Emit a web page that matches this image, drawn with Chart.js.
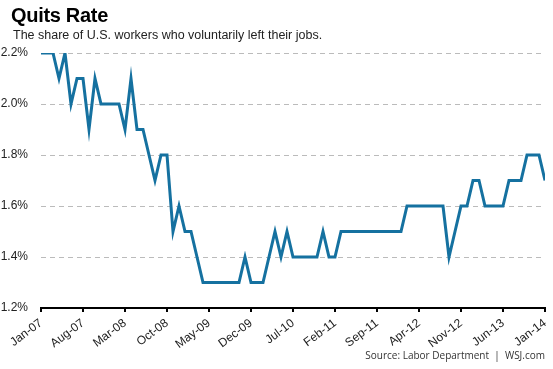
<!DOCTYPE html>
<html lang="en">
<head>
  <meta charset="UTF-8">
  <title>Quits Rate</title>
  <script src="https://cdn.jsdelivr.net/npm/chart.js"></script>
  <style>
    body { margin: 0; background: #fff; }
    .wrap { position: relative; width: 553px; height: 369px; font-family: "Liberation Sans", Arial, sans-serif; }
    #chart { position: absolute; left: 0; top: 0; }
    .title { position: absolute; left: 11px; top: 4px; font-size: 20px; font-weight: bold; color: #000; letter-spacing: -0.3px; }
    .sub { position: absolute; left: 13px; top: 28px; font-size: 12.5px; color: #222; }
    .src { position: absolute; right: 8px; top: 348px; font-size: 10px; color: #333; font-family: "Open Sans", sans-serif; }
  </style>
</head>
<body>
  <div class="wrap">
    <canvas id="chart" width="553" height="369"></canvas>
    <div class="title">Quits Rate</div>
    <div class="sub">The share of U.S. workers who voluntarily left their jobs.</div>
    <div class="src">Source: Labor Department &nbsp;|&nbsp; WSJ.com</div>
  </div>

  <script>
    // monthly, Jan-07 .. Jan-14
    const tickLabels = ['Jan-07', 'Aug-07', 'Mar-08', 'Oct-08', 'May-09', 'Dec-09', 'Jul-10',
                        'Feb-11', 'Sep-11', 'Apr-12', 'Nov-12', 'Jun-13', 'Jan-14'];
    const quitsRate = [
      2.2, 2.2, 2.2, 2.1, 2.2, 2.0, 2.1, 2.1, 1.9, 2.1, 2.0, 2.0,   // 2007
      2.0, 2.0, 1.9, 2.1, 1.9, 1.9, 1.8, 1.7, 1.8, 1.8, 1.5, 1.6,   // 2008
      1.5, 1.5, 1.4, 1.3, 1.3, 1.3, 1.3, 1.3, 1.3, 1.3, 1.4, 1.3,   // 2009
      1.3, 1.3, 1.4, 1.5, 1.4, 1.5, 1.4, 1.4, 1.4, 1.4, 1.4, 1.5,   // 2010
      1.4, 1.4, 1.5, 1.5, 1.5, 1.5, 1.5, 1.5, 1.5, 1.5, 1.5, 1.5,   // 2011
      1.5, 1.6, 1.6, 1.6, 1.6, 1.6, 1.6, 1.6, 1.4, 1.5, 1.6, 1.6,   // 2012
      1.7, 1.7, 1.6, 1.6, 1.6, 1.6, 1.7, 1.7, 1.7, 1.8, 1.8, 1.8,   // 2013
      1.7                                                           // 2014
    ];
    const monthStep = 7;

    const points = quitsRate.map((v, i) => ({ x: i, y: v }));

    new Chart(document.getElementById('chart'), {
      type: 'line',
      data: {
        datasets: [{
          data: points,
          borderColor: '#1571a0',
          borderWidth: 3,
          pointRadius: 0,
          tension: 0,
          borderJoinStyle: 'miter'
        }]
      },
      options: {
        responsive: false,
        animation: false,
        layout: { padding: { top: 53, right: 2, left: 0, bottom: 0 } },
        plugins: { legend: { display: false }, tooltip: { enabled: false } },
        scales: {
          x: {
            type: 'linear',
            min: 0,
            max: quitsRate.length - 1,
            afterFit: s => { s.height = 61; s.paddingRight = 8; },
            afterBuildTicks: s => {
              s.ticks = tickLabels.map((_, i) => ({ value: i * monthStep }));
            },
            ticks: {
              autoSkip: false,
              minRotation: 37,
              maxRotation: 37,
              padding: 4,
              color: '#222',
              font: { family: 'Liberation Sans', size: 12 },
              callback: (v) => tickLabels[v / monthStep]
            },
            grid: { drawOnChartArea: false, drawTicks: true, tickLength: 4, color: '#000', lineWidth: 2 },
            border: { display: true, color: '#000', width: 2 }
          },
          y: {
            min: 1.2,
            max: 2.2,
            afterFit: s => { s.width = 41; },
            ticks: {
              stepSize: 0.2,
              padding: 13,
              color: '#222',
              font: { family: 'Liberation Sans', size: 12 },
              callback: v => v.toFixed(1) + '%'
            },
            grid: { color: '#bbb', lineWidth: 1, drawTicks: false },
            border: { display: false, dash: [5, 4] }
          }
        }
      }
    });
  </script>
</body>
</html>
